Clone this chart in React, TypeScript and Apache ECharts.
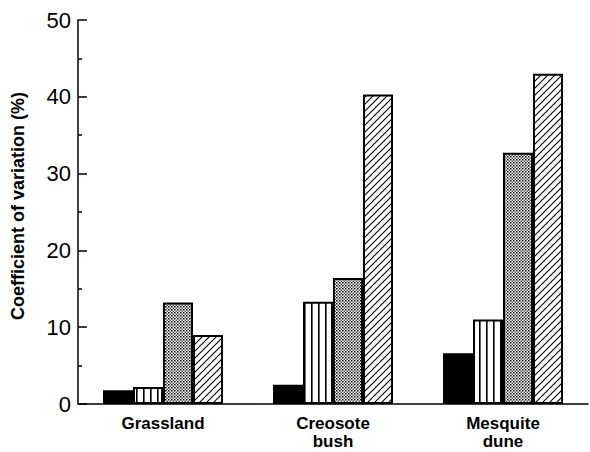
import React, { useEffect, useRef } from "react";
import * as echarts from "echarts";

const categories = ["Grassland", "Creosote\nbush", "Mesquite\ndune"];
const seriesSolid = [1.8, 2.5, 6.6];
const seriesVertical = [2.2, 13.3, 11.0];
const seriesDotted = [13.2, 16.4, 32.7];
const seriesHatched = [9.0, 40.3, 43.0];
const yTicks = [0, 10, 20, 30, 40, 50];

function makeCanvas(w: number, h: number, draw: (c: CanvasRenderingContext2D) => void) {
  const cv = document.createElement("canvas");
  cv.width = w;
  cv.height = h;
  const ctx = cv.getContext("2d")!;
  ctx.fillStyle = "#fff";
  ctx.fillRect(0, 0, w, h);
  draw(ctx);
  return cv;
}

export default function App() {
  const ref = useRef<HTMLDivElement>(null);
  useEffect(() => {
    if (!ref.current) return;
    const chart = echarts.init(ref.current, undefined, { renderer: "svg" });

    const vertical = makeCanvas(7, 7, (c) => {
      c.fillStyle = "#000";
      c.fillRect(3, 0, 1.6, 7);
    });
    const dotted = makeCanvas(3, 3, (c) => {
      c.fillStyle = "#000";
      c.fillRect(0, 0, 1.5, 1.5);
      c.fillStyle = "#555";
      c.fillRect(1.5, 1.5, 1.5, 1.5);
    });
    const hatched = makeCanvas(7, 7, (c) => {
      c.strokeStyle = "#000";
      c.lineWidth = 1.1;
      c.beginPath();
      c.moveTo(-1, 8);
      c.lineTo(8, -1);
      c.moveTo(-1, 1);
      c.lineTo(1, -1);
      c.moveTo(6, 8);
      c.lineTo(8, 6);
      c.stroke();
    });

    const border = { borderColor: "#000", borderWidth: 2 };
    const mk = (data: number[], color: any) => ({
      type: "bar",
      data,
      barWidth: 30,
      barGap: "0%",
      itemStyle: { color, ...border },
    });

    chart.setOption({
      animation: false,
      backgroundColor: "#fff",
      grid: { left: 78, right: 2, top: 20, bottom: 48, containLabel: false, outerBoundsMode: "none" },
      xAxis: {
        type: "category",
        data: categories,
        axisLine: { lineStyle: { color: "#000", width: 1.5 } },
        axisTick: { show: false },
        axisLabel: {
          color: "#000",
          fontFamily: "Liberation Sans",
          fontWeight: "bold",
          fontSize: 17,
          lineHeight: 18,
          margin: 10,
        },
      },
      yAxis: {
        type: "value",
        min: yTicks[0],
        max: yTicks[yTicks.length - 1],
        interval: 10,
        name: "Coefficient of variation (%)",
        nameLocation: "middle",
        nameGap: 51,
        nameTextStyle: {
          color: "#000",
          fontFamily: "Liberation Sans",
          fontWeight: "bold",
          fontSize: 18,
          padding: [0, 0, 0, 12],
        },
        axisLine: { show: true, lineStyle: { color: "#000", width: 1.5 } },
        axisTick: { show: true, inside: true, length: 9, lineStyle: { color: "#000", width: 1.5 } },
        minorTick: { show: true, splitNumber: 2, length: 4, lineStyle: { color: "#000", width: 1.5 } },
        splitLine: { show: false },
        axisLabel: {
          color: "#000",
          fontFamily: "Liberation Sans",
          fontSize: 22,
          margin: 7,
        },
      },
      series: [
        mk(seriesSolid, "#000"),
        mk(seriesVertical, { image: vertical, repeat: "repeat" }),
        mk(seriesDotted, { image: dotted, repeat: "repeat" }),
        mk(seriesHatched, { image: hatched, repeat: "repeat" }),
      ],
    });
    return () => chart.dispose();
  }, []);
  return (
    <div
      ref={ref}
      style={{ position: "absolute", left: 0, top: 0, width: 590, height: 452 }}
    />
  );
}
